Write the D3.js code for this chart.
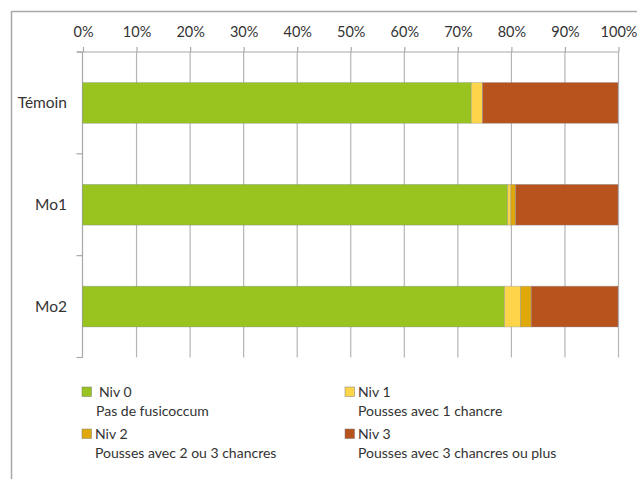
<!DOCTYPE html>
<html>
<head>
<meta charset="utf-8">
<script src="https://cdn.jsdelivr.net/npm/d3@7/dist/d3.min.js"></script>
<style>
  html, body { margin: 0; padding: 0; background: #fff; }
  svg { display: block; }
  text { font-family: Lato, "Open Sans", sans-serif; fill: #333; }
</style>
</head>
<body>
<svg id="chart" width="637" height="479"></svg>
<script>
// Treatments (top to bottom)
const categories = ["Témoin", "Mo1", "Mo2"];
// Severity levels, in stacking order
const levels = ["Niv 0", "Niv 1", "Niv 2", "Niv 3"];
const levelDescriptions = [
  "Pas de fusicoccum",
  "Pousses avec 1 chancre",
  "Pousses avec 2 ou 3 chancres",
  "Pousses avec 3 chancres ou plus"
];
// Share of shoots per level (%), one array per level
const niv0 = [72.6, 79.4, 78.8];
const niv1 = [2.1, 0.6, 3.0];
const niv2 = [0.0, 0.9, 2.0];
const niv3 = [25.3, 19.1, 16.2];
const tickValues = [0, 10, 20, 30, 40, 50, 60, 70, 80, 90, 100];
const colors = ["#99c31f", "#fdd54a", "#e0a90b", "#b8531e"];

const svg = d3.select("#chart");

// outer chart frame
svg.append("rect")
  .attr("x", 11.5).attr("y", 11.5)
  .attr("width", 700).attr("height", 600)
  .attr("fill", "none").attr("stroke", "#a8a8a8").attr("stroke-width", 1.5);

const plotLeft = 82.5, plotRight = 618, plotTop = 52, plotBottom = 357.5;

const x = d3.scaleLinear().domain([0, 100]).range([plotLeft, plotRight]);
const y = d3.scaleBand().domain(categories).range([plotTop, plotBottom])
  .paddingInner(0.6).paddingOuter(0.3);

// build stacked table
const table = categories.map((c, i) => ({
  cat: c, "Niv 0": niv0[i], "Niv 1": niv1[i], "Niv 2": niv2[i], "Niv 3": niv3[i]
}));
const series = d3.stack().keys(levels)(table);

// vertical gridlines
svg.append("g").selectAll("line").data(tickValues.slice(1)).join("line")
  .attr("x1", d => x(d) + 0.5).attr("x2", d => x(d) + 0.5)
  .attr("y1", plotTop).attr("y2", plotBottom)
  .attr("stroke", "#b5b5b5").attr("stroke-width", 1.2);

// top percentage axis
const xAxis = d3.axisTop(x).tickValues(tickValues).tickFormat(d => d + "%")
  .tickSize(5).tickPadding(10);
const gx = svg.append("g").attr("transform", `translate(0.5,${plotTop})`).call(xAxis);
gx.select(".domain").attr("d", `M${plotLeft - 6},0H${plotRight}`).attr("stroke", "#a8a8a8").attr("stroke-width", 1.2);
gx.selectAll(".tick line").attr("stroke", "#a8a8a8").attr("stroke-width", 1.2);
gx.selectAll(".tick text").attr("font-size", 14.5).attr("fill", "#333")
  .attr("font-family", "Lato, 'Open Sans', sans-serif");

// left category axis with separators between bands
const seps = d3.range(categories.length + 1)
  .map(i => plotTop + i * (plotBottom - plotTop) / categories.length);
svg.append("line")
  .attr("x1", plotLeft).attr("x2", plotLeft).attr("y1", plotTop).attr("y2", plotBottom)
  .attr("stroke", "#a8a8a8").attr("stroke-width", 1.2);
svg.append("g").selectAll("line").data(seps).join("line")
  .attr("x1", plotLeft - 6).attr("x2", plotLeft).attr("y1", d => d).attr("y2", d => d)
  .attr("stroke", "#a8a8a8").attr("stroke-width", 1.2);
svg.append("g").selectAll("text").data(categories).join("text")
  .attr("x", 67).attr("y", d => y(d) + y.bandwidth() / 2 + 1)
  .attr("text-anchor", "end").attr("dominant-baseline", "middle")
  .attr("font-size", 15.5).text(d => d);

// stacked bars
svg.append("g").selectAll("g").data(series).join("g")
  .attr("fill", (d, i) => colors[i])
  .selectAll("rect").data(d => d).join("rect")
  .attr("x", d => x(d[0]))
  .attr("y", d => y(d.data.cat))
  .attr("width", d => x(d[1]) - x(d[0]))
  .attr("height", y.bandwidth())
  .attr("stroke", "rgba(130,140,160,0.45)").attr("stroke-width", 0.8);

// legend, two columns
const legendPos = [
  { x: 82, y: 387 }, { x: 345, y: 387 },
  { x: 82, y: 429 }, { x: 345, y: 429 }
];
const lg = svg.append("g").selectAll("g").data(levels).join("g")
  .attr("transform", (d, i) => `translate(${legendPos[i].x},${legendPos[i].y})`);
lg.append("rect").attr("width", 9.5).attr("height", 9.5)
  .attr("fill", (d, i) => colors[i]).attr("stroke", "rgba(120,120,120,0.6)").attr("stroke-width", 0.8);
lg.append("text").attr("x", (d, i) => i === 0 ? 17 : 13).attr("y", 10)
  .attr("font-size", 14).text(d => d);
lg.append("text").attr("x", (d, i) => i === 0 ? 14 : 13).attr("y", 29)
  .attr("font-size", 14).text((d, i) => levelDescriptions[i]);
</script>
</body>
</html>
